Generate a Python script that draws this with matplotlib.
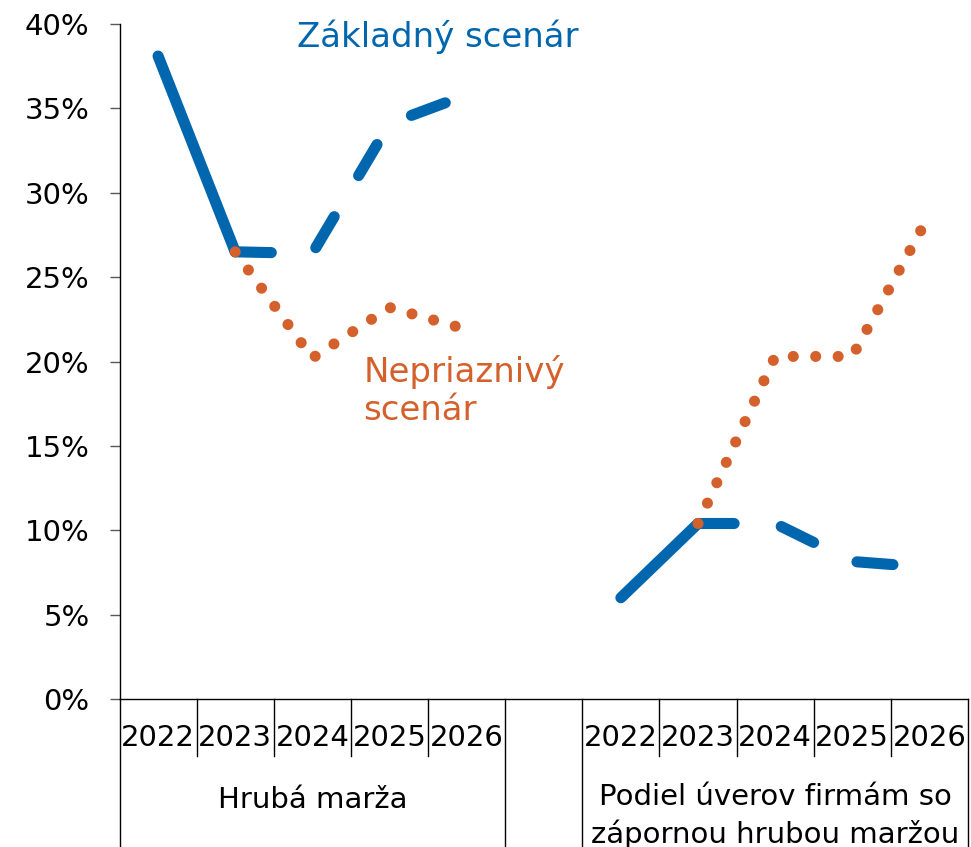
import matplotlib.pyplot as plt

# kategórie na osi x
years = ['2022', '2023', '2024', '2025', '2026']
groups = ['Hrubá marža', 'Podiel úverov firmám so\nzápornou hrubou maržou']

# Hrubá marža (%)
marza_hist = [38.1, 26.5]              # 2022-2023
marza_zakl = [26.5, 26.4, 34.1, 35.8]  # 2023-2026, základný scenár
marza_nepr = [26.5, 20.2, 23.2, 21.9]  # 2023-2026, nepriaznivý scenár

# Podiel úverov firmám so zápornou hrubou maržou (%)
podiel_hist = [6.0, 10.4]
podiel_zakl = [10.4, 10.4, 8.15, 7.8]
podiel_nepr = [10.4, 20.3, 20.3, 28.7]

yticks = [0, 5, 10, 15, 20, 25, 30, 35, 40]

BLUE = '#0066AE'
ORANGE = '#D4602B'

fig = plt.figure(figsize=(9.71, 8.47), dpi=100)
ax = fig.add_axes([0.12307, 0.17473, 0.87384, 0.97166 - 0.17473])

cats = years + [''] + years
series = [(marza_hist, marza_zakl, marza_nepr),
          (podiel_hist, podiel_zakl, podiel_nepr)]

for g, (hist, zakl, nepr) in enumerate(series):
    off = g * (len(years) + 1)
    xs = list(range(off + 1, off + len(years)))
    ax.plot([off, off + 1], hist, color=BLUE, lw=8,
            solid_capstyle='round', solid_joinstyle='round', zorder=3)
    ax.plot(xs, zakl, color=BLUE, lw=8, dashes=(3.25, 4.3),
            dash_capstyle='round', dash_joinstyle='round', zorder=3)
    ax.plot(xs, nepr, color=ORANGE, lw=8, dashes=(0.001, 2.02),
            dash_capstyle='round', zorder=4)

ax.set_xlim(-0.5, len(cats) - 0.5)
ax.set_ylim(0, 40)
ax.set_yticks(yticks)
ax.set_yticklabels([f'{v}%' for v in yticks], fontsize=21)
ax.tick_params(axis='y', length=7.5, width=1, color='#595959', pad=14)
ax.set_xticks([])

for s in ['top', 'right']:
    ax.spines[s].set_visible(False)
ax.spines['left'].set_linewidth(1)
ax.spines['bottom'].set_linewidth(1)

# deliace čiary kategórií pod osou
tr = ax.get_xaxis_transform()
inner_bottom = (699 - 756) / 675
full_bottom = (699 - 847) / 675
for i in range(len(cats) + 1):
    x = i - 0.5
    if i in (0, len(years), len(years) + 1, len(cats)):
        ax.plot([x, x], [0, full_bottom], color='black', lw=1,
                transform=tr, clip_on=False)
    else:
        ax.plot([x, x], [0, inner_bottom], color='black', lw=1,
                transform=tr, clip_on=False)

for i, c in enumerate(cats):
    if c:
        ax.text(i, (699 - 738) / 675, c, transform=tr, ha='center',
                va='center', fontsize=21)

# popisy skupín (baseline = posledný riadok)
group_base = [(699 - 808) / 675, (699 - 843) / 675]
for g, name in enumerate(groups):
    center = g * (len(years) + 1) + (len(years) - 1) / 2
    ax.text(center, group_base[g], name, transform=tr, ha='center',
            va='baseline', fontsize=21, linespacing=1.36)

ax.text(1.80, 38.63, 'Základný scenár', color=BLUE, fontsize=24.5,
        ha='left', va='baseline')
ax.text(2.66, 16.53, 'Nepriaznivý\nscenár', color=ORANGE, fontsize=24.5,
        ha='left', va='baseline', linespacing=1.21)

fig.savefig('out.png', dpi=100)
